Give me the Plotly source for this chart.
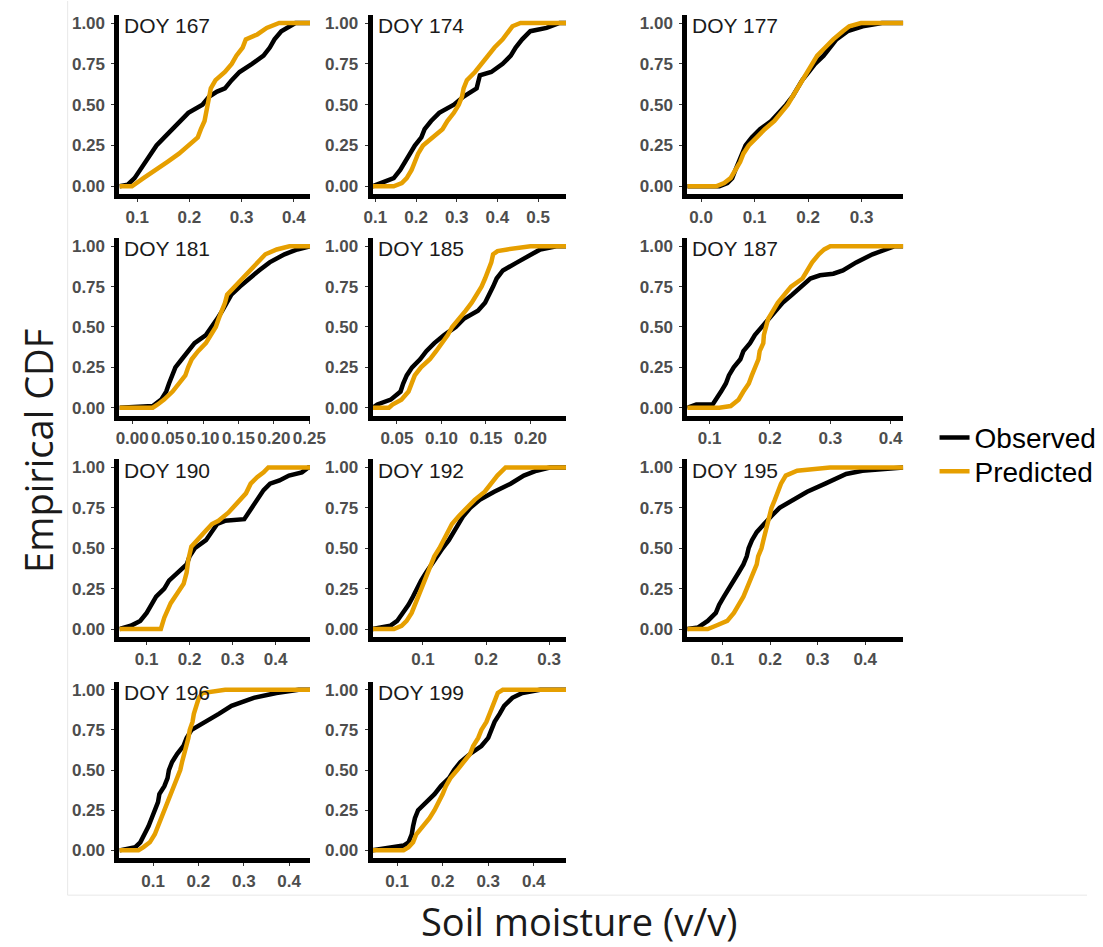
import plotly.graph_objects as go

# Day-of-year labels for each panel, in reading order
DAYS = [167, 174, 177, 181, 185, 187, 190, 192, 195, 196, 199]

# Empirical CDF curves: soil moisture (x) and cumulative probability (F)
OBS_X_167 = [0.082, 0.095, 0.106, 0.128, 0.137, 0.152, 0.183, 0.198, 0.225, 0.238, 0.253, 0.268, 0.281, 0.296, 0.320, 0.342, 0.354, 0.363, 0.376, 0.390, 0.403]
OBS_F_167 = [0.01, 0.05, 0.10, 0.20, 0.25, 0.30, 0.40, 0.45, 0.50, 0.55, 0.58, 0.60, 0.65, 0.70, 0.75, 0.80, 0.85, 0.90, 0.95, 0.98, 1.00]
PRED_X_167 = [0.090, 0.112, 0.137, 0.158, 0.180, 0.198, 0.216, 0.222, 0.229, 0.235, 0.241, 0.250, 0.268, 0.281, 0.290, 0.302, 0.308, 0.330, 0.348, 0.372]
PRED_F_167 = [0.00, 0.05, 0.10, 0.15, 0.20, 0.25, 0.30, 0.35, 0.40, 0.50, 0.60, 0.65, 0.70, 0.75, 0.80, 0.85, 0.90, 0.93, 0.97, 1.00]

OBS_X_174 = [0.113, 0.145, 0.161, 0.173, 0.185, 0.197, 0.213, 0.221, 0.237, 0.257, 0.293, 0.317, 0.349, 0.357, 0.385, 0.413, 0.433, 0.445, 0.461, 0.481, 0.521, 0.545, 0.553]
OBS_F_174 = [0.02, 0.05, 0.10, 0.15, 0.20, 0.25, 0.30, 0.35, 0.40, 0.45, 0.50, 0.55, 0.60, 0.68, 0.70, 0.75, 0.80, 0.85, 0.90, 0.95, 0.97, 0.99, 1.00]
PRED_X_174 = [0.145, 0.165, 0.177, 0.189, 0.197, 0.205, 0.217, 0.241, 0.265, 0.277, 0.293, 0.305, 0.313, 0.317, 0.325, 0.345, 0.361, 0.377, 0.393, 0.413, 0.429, 0.437, 0.457]
PRED_F_174 = [0.00, 0.02, 0.05, 0.10, 0.15, 0.20, 0.25, 0.30, 0.35, 0.40, 0.45, 0.50, 0.55, 0.60, 0.65, 0.70, 0.75, 0.80, 0.85, 0.90, 0.95, 0.98, 1.00]

OBS_X_177 = [0.034, 0.049, 0.058, 0.064, 0.070, 0.076, 0.083, 0.095, 0.110, 0.131, 0.146, 0.159, 0.171, 0.180, 0.189, 0.201, 0.213, 0.229, 0.241, 0.253, 0.274, 0.302, 0.338]
OBS_F_177 = [0.00, 0.02, 0.05, 0.10, 0.15, 0.20, 0.25, 0.30, 0.35, 0.40, 0.45, 0.50, 0.55, 0.60, 0.65, 0.70, 0.75, 0.80, 0.85, 0.90, 0.95, 0.98, 1.00]
PRED_X_177 = [0.028, 0.043, 0.055, 0.064, 0.073, 0.079, 0.089, 0.104, 0.119, 0.137, 0.150, 0.162, 0.171, 0.180, 0.189, 0.198, 0.207, 0.217, 0.232, 0.247, 0.265, 0.277, 0.299]
PRED_F_177 = [0.00, 0.02, 0.05, 0.10, 0.15, 0.20, 0.25, 0.30, 0.35, 0.40, 0.45, 0.50, 0.55, 0.60, 0.65, 0.70, 0.75, 0.80, 0.85, 0.90, 0.95, 0.98, 1.00]

OBS_X_181 = [0.029, 0.041, 0.048, 0.052, 0.057, 0.061, 0.070, 0.079, 0.088, 0.104, 0.113, 0.120, 0.127, 0.133, 0.140, 0.152, 0.165, 0.179, 0.194, 0.215, 0.233, 0.249]
OBS_F_181 = [0.01, 0.05, 0.10, 0.15, 0.20, 0.25, 0.30, 0.35, 0.40, 0.45, 0.50, 0.55, 0.60, 0.65, 0.70, 0.75, 0.80, 0.85, 0.90, 0.95, 0.98, 1.00]
PRED_X_181 = [0.029, 0.036, 0.045, 0.057, 0.066, 0.075, 0.079, 0.084, 0.093, 0.104, 0.111, 0.118, 0.122, 0.127, 0.131, 0.134, 0.145, 0.154, 0.165, 0.176, 0.188, 0.204, 0.222]
PRED_F_181 = [0.00, 0.02, 0.05, 0.10, 0.15, 0.20, 0.25, 0.30, 0.35, 0.40, 0.45, 0.50, 0.55, 0.60, 0.65, 0.70, 0.75, 0.80, 0.85, 0.90, 0.95, 0.98, 1.00]

OBS_X_185 = [0.028, 0.043, 0.054, 0.057, 0.061, 0.067, 0.076, 0.083, 0.092, 0.103, 0.116, 0.125, 0.141, 0.149, 0.154, 0.158, 0.162, 0.169, 0.185, 0.200, 0.211, 0.229]
OBS_F_185 = [0.02, 0.05, 0.10, 0.15, 0.20, 0.25, 0.30, 0.35, 0.40, 0.45, 0.50, 0.55, 0.60, 0.65, 0.70, 0.75, 0.80, 0.85, 0.90, 0.95, 0.98, 1.00]
PRED_X_185 = [0.041, 0.045, 0.055, 0.063, 0.066, 0.070, 0.077, 0.087, 0.094, 0.101, 0.107, 0.112, 0.120, 0.127, 0.134, 0.140, 0.145, 0.149, 0.153, 0.156, 0.158, 0.163, 0.174, 0.185, 0.200]
PRED_F_185 = [0.00, 0.02, 0.05, 0.10, 0.15, 0.20, 0.25, 0.30, 0.35, 0.40, 0.45, 0.50, 0.55, 0.60, 0.65, 0.70, 0.75, 0.80, 0.85, 0.90, 0.95, 0.97, 0.98, 0.99, 1.00]

OBS_X_187 = [0.078, 0.105, 0.111, 0.119, 0.127, 0.132, 0.140, 0.151, 0.156, 0.167, 0.175, 0.186, 0.197, 0.208, 0.221, 0.237, 0.251, 0.267, 0.283, 0.305, 0.321, 0.343, 0.370, 0.391, 0.407]
OBS_F_187 = [0.02, 0.02, 0.05, 0.10, 0.15, 0.20, 0.25, 0.30, 0.35, 0.40, 0.45, 0.50, 0.55, 0.60, 0.65, 0.70, 0.75, 0.80, 0.82, 0.83, 0.85, 0.90, 0.95, 0.98, 1.00]
PRED_X_187 = [0.116, 0.135, 0.148, 0.156, 0.165, 0.170, 0.175, 0.181, 0.183, 0.189, 0.190, 0.193, 0.197, 0.205, 0.213, 0.224, 0.235, 0.254, 0.262, 0.270, 0.281, 0.290, 0.300]
PRED_F_187 = [0.00, 0.01, 0.05, 0.10, 0.15, 0.20, 0.25, 0.30, 0.35, 0.40, 0.45, 0.50, 0.55, 0.60, 0.65, 0.70, 0.75, 0.80, 0.85, 0.90, 0.95, 0.98, 1.00]

OBS_X_190 = [0.048, 0.063, 0.085, 0.100, 0.122, 0.141, 0.152, 0.174, 0.193, 0.200, 0.212, 0.238, 0.250, 0.264, 0.282, 0.327, 0.342, 0.357, 0.372, 0.387, 0.409, 0.431, 0.461, 0.476]
OBS_F_190 = [0.01, 0.02, 0.05, 0.10, 0.20, 0.25, 0.30, 0.35, 0.40, 0.45, 0.50, 0.55, 0.60, 0.65, 0.67, 0.68, 0.74, 0.80, 0.86, 0.90, 0.92, 0.95, 0.97, 1.00]
PRED_X_190 = [0.133, 0.141, 0.156, 0.171, 0.186, 0.193, 0.197, 0.204, 0.219, 0.238, 0.252, 0.267, 0.290, 0.312, 0.331, 0.342, 0.357, 0.372, 0.383]
PRED_F_190 = [0.00, 0.07, 0.16, 0.22, 0.28, 0.35, 0.43, 0.51, 0.55, 0.61, 0.65, 0.67, 0.72, 0.78, 0.84, 0.90, 0.94, 0.97, 1.00]

OBS_X_192 = [0.033, 0.048, 0.059, 0.069, 0.077, 0.084, 0.090, 0.097, 0.105, 0.113, 0.121, 0.131, 0.141, 0.149, 0.157, 0.164, 0.175, 0.190, 0.213, 0.239, 0.260, 0.280, 0.301]
OBS_F_192 = [0.01, 0.02, 0.05, 0.10, 0.15, 0.20, 0.25, 0.30, 0.35, 0.40, 0.45, 0.50, 0.55, 0.60, 0.65, 0.70, 0.75, 0.80, 0.85, 0.90, 0.95, 0.98, 1.00]
PRED_X_192 = [0.054, 0.066, 0.074, 0.082, 0.087, 0.092, 0.097, 0.102, 0.108, 0.113, 0.118, 0.126, 0.133, 0.141, 0.146, 0.157, 0.170, 0.182, 0.198, 0.208, 0.218, 0.231]
PRED_F_192 = [0.00, 0.02, 0.05, 0.10, 0.15, 0.20, 0.25, 0.30, 0.35, 0.40, 0.45, 0.50, 0.55, 0.60, 0.65, 0.70, 0.75, 0.80, 0.85, 0.90, 0.95, 1.00]

OBS_X_195 = [0.049, 0.059, 0.069, 0.086, 0.093, 0.103, 0.114, 0.124, 0.134, 0.144, 0.151, 0.155, 0.162, 0.172, 0.186, 0.203, 0.220, 0.247, 0.278, 0.316, 0.340, 0.360, 0.394, 0.463]
OBS_F_195 = [0.01, 0.03, 0.05, 0.10, 0.15, 0.20, 0.25, 0.30, 0.35, 0.40, 0.45, 0.50, 0.55, 0.60, 0.65, 0.70, 0.75, 0.80, 0.85, 0.90, 0.93, 0.96, 0.98, 1.00]
PRED_X_195 = [0.069, 0.086, 0.110, 0.124, 0.134, 0.144, 0.151, 0.158, 0.165, 0.172, 0.175, 0.182, 0.186, 0.190, 0.194, 0.199, 0.203, 0.210, 0.216, 0.223, 0.233, 0.257, 0.326]
PRED_F_195 = [0.00, 0.02, 0.05, 0.10, 0.15, 0.20, 0.25, 0.30, 0.35, 0.40, 0.45, 0.50, 0.55, 0.60, 0.65, 0.70, 0.75, 0.80, 0.85, 0.90, 0.95, 0.98, 1.00]

OBS_X_196 = [0.047, 0.061, 0.072, 0.082, 0.090, 0.097, 0.104, 0.111, 0.114, 0.125, 0.132, 0.135, 0.142, 0.153, 0.167, 0.174, 0.185, 0.217, 0.245, 0.273, 0.322, 0.372, 0.421]
OBS_F_196 = [0.01, 0.02, 0.05, 0.10, 0.15, 0.20, 0.25, 0.30, 0.35, 0.40, 0.45, 0.50, 0.55, 0.60, 0.65, 0.70, 0.75, 0.80, 0.85, 0.90, 0.95, 0.98, 1.00]
PRED_X_196 = [0.068, 0.079, 0.093, 0.104, 0.111, 0.118, 0.125, 0.132, 0.139, 0.146, 0.153, 0.160, 0.164, 0.169, 0.173, 0.178, 0.181, 0.187, 0.190, 0.195, 0.201, 0.209, 0.238, 0.259]
PRED_F_196 = [0.00, 0.02, 0.05, 0.10, 0.15, 0.20, 0.25, 0.30, 0.35, 0.40, 0.45, 0.50, 0.55, 0.60, 0.65, 0.70, 0.75, 0.80, 0.85, 0.90, 0.95, 0.98, 0.99, 1.00]

OBS_X_199 = [0.075, 0.100, 0.114, 0.125, 0.132, 0.135, 0.139, 0.146, 0.164, 0.182, 0.196, 0.214, 0.225, 0.239, 0.260, 0.285, 0.300, 0.307, 0.314, 0.325, 0.335, 0.353, 0.375, 0.414]
OBS_F_199 = [0.01, 0.02, 0.03, 0.05, 0.10, 0.15, 0.20, 0.25, 0.30, 0.35, 0.40, 0.45, 0.50, 0.55, 0.60, 0.65, 0.70, 0.75, 0.80, 0.85, 0.90, 0.95, 0.98, 1.00]
PRED_X_199 = [0.114, 0.125, 0.135, 0.142, 0.157, 0.171, 0.182, 0.192, 0.200, 0.207, 0.217, 0.232, 0.246, 0.260, 0.267, 0.278, 0.285, 0.296, 0.303, 0.310, 0.317, 0.321, 0.332]
PRED_F_199 = [0.00, 0.02, 0.05, 0.10, 0.15, 0.20, 0.25, 0.30, 0.35, 0.40, 0.45, 0.50, 0.55, 0.60, 0.65, 0.70, 0.75, 0.80, 0.85, 0.90, 0.95, 0.98, 1.00]

# x-axis limits and tick spacing for each panel
X_RANGES = [(0.066, 0.431), (0.093, 0.569), (-0.026, 0.378),
            (-0.018, 0.251), (0.0226, 0.240), (0.063, 0.421),
            (0.0367, 0.480), (0.020, 0.327), (0.026, 0.480),
            (0.026, 0.446), (0.046, 0.471)]
X_DTICK = [0.1, 0.1, 0.1, 0.05, 0.05, 0.1, 0.1, 0.1, 0.1, 0.1, 0.1]

SERIES = {
    167: (OBS_X_167, OBS_F_167, PRED_X_167, PRED_F_167),
    174: (OBS_X_174, OBS_F_174, PRED_X_174, PRED_F_174),
    177: (OBS_X_177, OBS_F_177, PRED_X_177, PRED_F_177),
    181: (OBS_X_181, OBS_F_181, PRED_X_181, PRED_F_181),
    185: (OBS_X_185, OBS_F_185, PRED_X_185, PRED_F_185),
    187: (OBS_X_187, OBS_F_187, PRED_X_187, PRED_F_187),
    190: (OBS_X_190, OBS_F_190, PRED_X_190, PRED_F_190),
    192: (OBS_X_192, OBS_F_192, PRED_X_192, PRED_F_192),
    195: (OBS_X_195, OBS_F_195, PRED_X_195, PRED_F_195),
    196: (OBS_X_196, OBS_F_196, PRED_X_196, PRED_F_196),
    199: (OBS_X_199, OBS_F_199, PRED_X_199, PRED_F_199),
}

W, H = 1103, 947
OBS_COLOR = "#000000"
PRED_COLOR = "#E69F00"
TICK_FONT = dict(family="Liberation Sans, Arial", size=17, color="#4D4D4D", weight="bold")
LEGEND_FONT = dict(family="Liberation Sans, Arial", size=28, color="#000000")
TITLE_FONT = dict(family="Open Sans", size=38, color="#1A1A1A")

# panel placement in pixels (left/right edges per column, top/bottom per row)
COL_PX = [(113, 308), (372, 570), (694, 915)]
ROW_PX = [(13.9, 194.1), (237.9, 416.1), (459.9, 638.1), (682.9, 860.1)]

fig = go.Figure()
layout = {}
annotations = []

for i, day in enumerate(DAYS):
    n = i + 1
    row, col = divmod(i, 3)
    x0, x1 = COL_PX[col]
    y0, y1 = ROW_PX[row]
    lo, hi = X_RANGES[i]
    ox, of, px, pf = SERIES[day]
    sfx = "" if n == 1 else str(n)

    # ECDF padding: flat at 0 to the left limit and at 1 to the right limit
    for name, xs, fs, color, leg in (("Observed", ox, of, OBS_COLOR, "legend"),
                                     ("Predicted", px, pf, PRED_COLOR, "legend2")):
        fig.add_trace(go.Scatter(
            x=[lo] + list(xs) + [hi],
            y=[0.0] + list(fs) + [1.0],
            mode="lines",
            line=dict(color=color, width=4.5),
            name=name,
            legend=leg,
            legendgroup=name,
            showlegend=(n == 1),
            xaxis="x" + sfx, yaxis="y" + sfx,
            hoverinfo="skip",
        ))

    dt = X_DTICK[i]
    layout["xaxis" + sfx] = dict(
        domain=[x0 / W, x1 / W], anchor="y" + sfx, range=[lo, hi],
        tick0=0, dtick=dt, tickformat=".2f" if dt < 0.1 else ".1f",
        showline=True, linecolor="black", linewidth=5,
        showgrid=False, zeroline=False,
        ticks="outside", ticklen=3, tickwidth=1, tickcolor="#333333",
        tickfont=TICK_FONT, ticklabelstandoff=0, fixedrange=True,
    )
    layout["yaxis" + sfx] = dict(
        domain=[1 - y1 / H, 1 - y0 / H], anchor="x" + sfx, range=[-0.05, 1.05],
        tickvals=[0, 0.25, 0.5, 0.75, 1.0], tickformat=".2f",
        showline=True, linecolor="black", linewidth=5,
        showgrid=False, zeroline=False,
        ticks="outside", ticklen=3, tickwidth=1, tickcolor="#333333",
        tickfont=TICK_FONT, ticklabelstandoff=3, fixedrange=True,
    )
    annotations.append(dict(
        text=f"DOY {day}", xref=f"x{sfx} domain", yref=f"y{sfx} domain",
        x=0, xanchor="left", xshift=3, y=0.94, yanchor="middle",
        showarrow=False, font=dict(family="Liberation Sans, Arial", size=21, color="#1A1A1A"),
    ))

annotations.append(dict(
    text="Empirical CDF", xref="paper", yref="paper", x=29 / W, y=1 - 451 / H,
    xanchor="center", yanchor="middle", textangle=-90, showarrow=False,
    font=TITLE_FONT,
))
annotations.append(dict(
    text="Soil moisture (v/v)", xref="paper", yref="paper", x=583 / W, y=1 - 923 / H,
    xanchor="center", yanchor="middle", showarrow=False,
    font=TITLE_FONT,
))

legend_common = dict(
    x=947 / W, xanchor="left", yanchor="top", font=LEGEND_FONT,
    bgcolor="rgba(0,0,0,0)", itemwidth=30,
)

layout.update(
    width=W, height=H,
    margin=dict(l=0, r=0, t=0, b=0),
    paper_bgcolor="white", plot_bgcolor="white",
    annotations=annotations,
    shapes=[
        dict(type="line", xref="paper", yref="paper", x0=60 / W, x1=60 / W, y0=1 - 897 / H, y1=1,
             line=dict(color="#E8E8E8", width=1)),
        dict(type="line", xref="paper", yref="paper", x0=60 / W, x1=1, y0=1 - 897 / H, y1=1 - 897 / H,
             line=dict(color="#E8E8E8", width=1)),
    ],
    legend=dict(y=1 - 413 / H, **legend_common),
    legend2=dict(y=1 - 447 / H, **legend_common),
    showlegend=True,
)
fig.update_layout(**layout)
fig.write_html("out.html")
